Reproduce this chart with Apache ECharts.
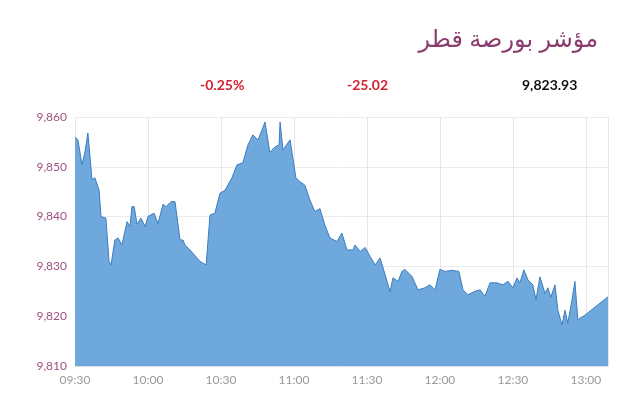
<!DOCTYPE html><html><head><meta charset="utf-8"><script src="https://cdn.jsdelivr.net/npm/echarts@6/dist/echarts.min.js"></script>
<style>html,body{margin:0;padding:0;background:#fff}#c{width:640px;height:407px}</style></head><body><div id="c"></div><script>
// minutes after 09:30
const minutes=[0,1.2,2.9,4.1,5.3,7.0,8.2,9.9,10.7,12.7,14.0,14.8,16.4,17.7,19.3,21.4,22.6,23.4,24.3,25.5,27.1,28.8,30.0,30.8,32.5,34.1,36.2,37.4,39.5,41.1,43.2,44.4,45.2,47.3,51.4,53.9,55.5,57.5,59.6,61.7,64.5,66.6,69.0,71.1,73.1,75.2,76.9,78.1,80.1,82.2,83.9,84.3,85.5,88.4,90.8,92.5,94.5,96.6,98.6,100.7,102.7,104.8,107.7,109.7,111.8,114.3,115.1,117.2,119.3,121.3,123.4,125.4,127.5,129.5,130.7,132.8,134.4,135.6,138.5,141.0,143.9,145.9,148.0,150.0,152.1,155.0,157.8,159.5,161.5,164.4,166.5,168.5,170.6,173.4,175.9,178.0,180.0,181.7,182.9,184.5,186.2,188.2,189.5,191.1,193.2,194.4,195.6,197.3,198.5,200.2,201.4,202.6,204.3,205.5,206.7,209.6,219.1];
const values=[9856,9855.4,9850.4,9853,9856.8,9847.4,9847.8,9845.3,9840,9839.7,9831,9830.3,9835.3,9835.7,9834.3,9839,9838,9842,9842,9838.5,9839.7,9838,9840,9839.7,9840.7,9838.6,9842.5,9842,9843,9843,9835.3,9835.3,9834.3,9833.3,9831,9830.3,9840.3,9840.7,9844.7,9845.3,9847.8,9850.4,9850.8,9854.4,9856.4,9855.4,9857.4,9859,9852.9,9854,9854.4,9859,9853.4,9855.4,9847.8,9847,9846.3,9843.3,9841,9841.6,9838.3,9835.7,9835,9836.7,9833.3,9833.3,9834.3,9833,9833.8,9832,9830.3,9831.7,9828.3,9824.9,9827.7,9827,9829,9829.4,9828,9825.3,9825.7,9826.3,9825.3,9829.4,9829,9829.2,9829,9825.3,9824.3,9825,9825.3,9824,9826.7,9826.7,9826.3,9827,9825.7,9827.7,9826.7,9829.3,9827.3,9826.3,9823.3,9827.9,9824.6,9825.7,9823.8,9826.3,9821.2,9818.2,9821.2,9818.6,9823.3,9827,9819.3,9820.2,9823.9];
const timeLabels=['09:30','10:00','10:30','11:00','11:30','12:00','12:30','13:00'];
const title='مؤشر بورصة قطر', pct='-0.25%', chg='-25.02', last='9,823.93';
const data=minutes.map((m,i)=>[m,values[i]]);
const ch=echarts.init(document.getElementById('c'));
ch.setOption({
 animation:false,
 graphic:[
  {type:'text',right:42,top:28,style:{text:title,font:'24px "Noto Sans","DejaVu Sans"',fill:'#8b3c6e'}},
  {type:'text',left:200,top:78,style:{text:pct,font:'bold 14px Lato',fill:'#d4212f'}},
  {type:'text',left:347,top:78,style:{text:chg,font:'bold 14px Lato',fill:'#d4212f'}},
  {type:'text',left:522,top:78,style:{text:last,font:'bold 14px Lato',fill:'#111'}}
 ],
 grid:{left:75,right:32,top:117,bottom:41},
 xAxis:{type:'value',min:0,max:219.1,interval:30,
  axisLine:{show:true,lineStyle:{color:'#ddd'}},axisTick:{show:false},
  splitLine:{show:true,lineStyle:{color:'#e6e6e6'}},
  axisLabel:{color:'#999',fontFamily:'Lato',fontSize:12,showMaxLabel:false,formatter:v=>timeLabels[Math.round(v/30)]||''}},
 yAxis:{type:'value',min:9810,max:9860,interval:10,
  axisLine:{show:false},axisTick:{show:false},
  splitLine:{lineStyle:{color:'#ececec'}},
  axisLabel:{color:'#a0507e',fontFamily:'Lato',fontSize:12,formatter:v=>v.toLocaleString('en-US')}},
 series:[{type:'line',data,showSymbol:false,lineStyle:{color:'#3d7cc0',width:1},areaStyle:{color:'#6fa8dc',opacity:1}}]
});
</script></body></html>
